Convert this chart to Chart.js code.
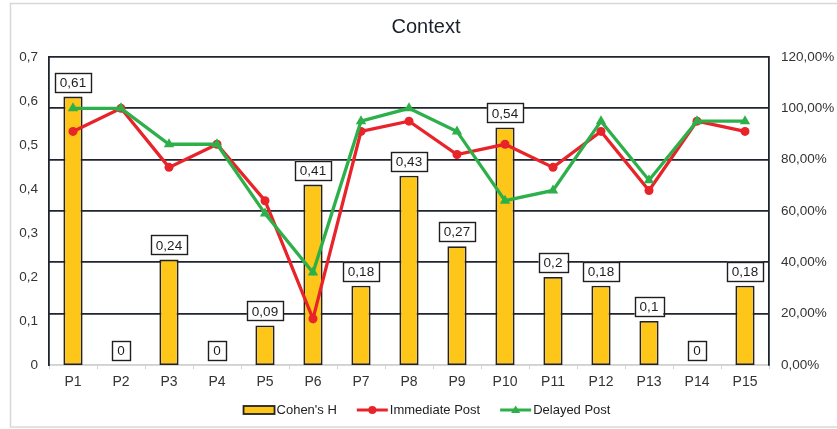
<!DOCTYPE html>
<html>
<head>
<meta charset="utf-8">
<script src="https://cdn.jsdelivr.net/npm/chart.js@4"></script>
<style>
  html, body { margin: 0; padding: 0; background: #ffffff; }
  #wrap { position: relative; width: 837px; height: 429px; }
</style>
</head>
<body>
<div id="wrap"><canvas id="c" width="837" height="429"></canvas></div>
<script>
const chartTitle = 'Context';
const categories = ['P1','P2','P3','P4','P5','P6','P7','P8','P9','P10','P11','P12','P13','P14','P15'];
const cohensH = [0.61, 0, 0.24, 0, 0.09, 0.41, 0.18, 0.43, 0.27, 0.54, 0.2, 0.18, 0.1, 0, 0.18];
const immediatePost = [91, 100, 77, 86, 64, 18, 91, 95, 82, 86, 77, 91, 68, 95, 91];
const delayedPost = [100, 100, 86, 86, 59, 36, 95, 100, 91, 64, 68, 95, 72, 95, 95];
const seriesNames = ["Cohen's H", 'Immediate Post', 'Delayed Post'];
const leftTicks = [0, 0.1, 0.2, 0.3, 0.4, 0.5, 0.6, 0.7];
const rightTicks = [0, 20, 40, 60, 80, 100, 120];

const FONT = '"Liberation Sans", Arial, Helvetica, sans-serif';
const DARK = '#1f2430';
const LIGHT = '#d2d2d2';
const YELLOW = '#FFC61A';
const RED = '#E8232A';
const GREEN = '#2DAF4A';

function fmtComma(v, d) {
  if (v === 0 && d < 2) return '0';
  return Number(v).toFixed(d).replace('.', ',');
}

const framePlugin = {
  id: 'frame',
  beforeDraw(chart) {
    const ctx = chart.ctx;
    ctx.save();
    ctx.fillStyle = '#ffffff';
    ctx.fillRect(0, 0, chart.width, chart.height);
    ctx.strokeStyle = '#d8d8d8';
    ctx.lineWidth = 1.5;
    ctx.strokeRect(10.5, 3.5, 900, 423.5);
    ctx.restore();
  },
  afterDraw(chart) {
    const ctx = chart.ctx;
    ctx.save();
    // title
    ctx.fillStyle = '#1a1f2b';
    ctx.font = '20px ' + FONT;
    ctx.textAlign = 'center';
    ctx.textBaseline = 'middle';
    ctx.fillText(chartTitle, 426, 27);

    // legend
    ctx.font = '13px ' + FONT;
    ctx.textBaseline = 'middle';
    ctx.textAlign = 'left';
    const symW = 31, gapT = 2, gapI = 20;
    const ds = chart.data.datasets;
    const widths = ds.map(d => symW + gapT + ctx.measureText(d.label).width);
    const total = widths.reduce((a, b) => a + b, 0) + gapI * (ds.length - 1);
    let x = 427 - total / 2;
    const y = 410;
    ds.forEach((d, i) => {
      if (d.type === 'bar' || !d.type) {
        ctx.fillStyle = d.backgroundColor;
        ctx.fillRect(x, y - 4, symW, 8);
        ctx.strokeStyle = '#222';
        ctx.lineWidth = 1.8;
        ctx.strokeRect(x, y - 4, symW, 8);
      } else {
        ctx.strokeStyle = d.borderColor;
        ctx.lineWidth = 3;
        ctx.beginPath();
        ctx.moveTo(x, y);
        ctx.lineTo(x + symW, y);
        ctx.stroke();
        ctx.fillStyle = d.borderColor;
        const cx = x + symW / 2;
        ctx.beginPath();
        if (d.pointStyle === 'triangle') {
          ctx.moveTo(cx, y - 4.5);
          ctx.lineTo(cx + 4.5, y + 3);
          ctx.lineTo(cx - 4.5, y + 3);
          ctx.closePath();
        } else {
          ctx.arc(cx, y, 4, 0, Math.PI * 2);
        }
        ctx.fill();
      }
      ctx.fillStyle = '#222';
      ctx.fillText(d.label, x + symW + gapT, y + 0.5);
      x += widths[i] + gapI;
    });
    ctx.restore();
  }
};

const labelPlugin = {
  id: 'boxLabels',
  afterDatasetsDraw(chart) {
    const ctx = chart.ctx;
    const meta = chart.getDatasetMeta(0);
    const data = chart.data.datasets[0].data;
    ctx.save();
    ctx.font = '13.5px ' + FONT;
    ctx.textAlign = 'center';
    ctx.textBaseline = 'middle';
    meta.data.forEach((el, i) => {
      const txt = fmtComma(data[i], data[i] === 0 ? 0 : (Math.round(data[i] * 10) === data[i] * 10 ? 1 : 2));
      const w = ctx.measureText(txt).width + 10;
      const h = 19;
      const bottom = el.y - 5;
      const top = bottom - h;
      const left = el.x - w / 2;
      ctx.fillStyle = '#ffffff';
      ctx.fillRect(left, top, w, h);
      ctx.strokeStyle = '#1e1e1e';
      ctx.lineWidth = 1.4;
      ctx.strokeRect(Math.round(left) + 0.5, Math.round(top) + 0.5, Math.round(w), h);
      ctx.fillStyle = '#1e1e1e';
      ctx.fillText(txt, el.x, top + h / 2 + 1);
    });
    ctx.restore();
  }
};

new Chart(document.getElementById('c'), {
  data: {
    labels: categories,
    datasets: [
      {
        type: 'bar',
        label: seriesNames[0],
        data: cohensH,
        yAxisID: 'y',
        backgroundColor: YELLOW,
        borderColor: '#222222',
        borderWidth: ctx => (ctx.raw === 0 ? 0 : 1.8),
        borderSkipped: false,
        categoryPercentage: 1,
        barPercentage: 0.4,
        order: 3
      },
      {
        type: 'line',
        label: seriesNames[1],
        data: immediatePost,
        yAxisID: 'y1',
        borderColor: RED,
        backgroundColor: RED,
        borderWidth: 3.3,
        pointStyle: 'circle',
        pointRadius: 4.5,
        pointBackgroundColor: RED,
        pointBorderColor: RED,
        pointBorderWidth: 0,
        tension: 0,
        order: 2
      },
      {
        type: 'line',
        label: seriesNames[2],
        data: delayedPost,
        yAxisID: 'y1',
        borderColor: GREEN,
        backgroundColor: GREEN,
        borderWidth: 3.3,
        pointStyle: 'triangle',
        pointRadius: 6,
        pointBackgroundColor: GREEN,
        pointBorderColor: GREEN,
        pointBorderWidth: 0,
        tension: 0,
        order: 1
      }
    ]
  },
  options: {
    responsive: false,
    animation: false,
    devicePixelRatio: 1,
    layout: { padding: { top: 57, left: 0, right: 0, bottom: 0 } },
    plugins: {
      legend: { display: false },
      title: { display: false },
      tooltip: { enabled: false }
    },
    scales: {
      x: {
        type: 'category',
        offset: true,
        grid: {
          display: true,
          offset: true,
          drawOnChartArea: false,
          drawTicks: true,
          tickLength: 4,
          color: LIGHT,
          lineWidth: 1
        },
        border: { display: true, color: LIGHT, width: 1.5 },
        ticks: {
          color: '#333333',
          font: { family: FONT, size: 14 },
          padding: 5,
          maxRotation: 0,
          autoSkip: false
        },
        afterFit(scale) { scale.height = 64; }
      },
      y: {
        type: 'linear',
        position: 'left',
        min: leftTicks[0],
        max: leftTicks[leftTicks.length - 1],
        afterBuildTicks(scale) { scale.ticks = leftTicks.map(v => ({ value: v })); },
        grid: { display: false, drawTicks: false },
        border: { display: true, color: DARK, width: 1.8 },
        ticks: {
          color: '#333333',
          font: { family: FONT, size: 13.5 },
          padding: 11,
          callback: v => fmtComma(v, 1)
        },
        afterFit(scale) { scale.width = 49; }
      },
      y1: {
        type: 'linear',
        position: 'right',
        min: rightTicks[0],
        max: rightTicks[rightTicks.length - 1],
        afterBuildTicks(scale) { scale.ticks = rightTicks.map(v => ({ value: v })); },
        grid: {
          display: true,
          drawTicks: false,
          drawOnChartArea: true,
          color: ctx => (ctx.tick && ctx.tick.value === 0 ? LIGHT : DARK),
          lineWidth: 1.8
        },
        border: { display: true, color: DARK, width: 1.8 },
        ticks: {
          color: '#333333',
          font: { family: FONT, size: 13.5 },
          padding: 12,
          callback: v => fmtComma(v, 2) + '%'
        },
        afterFit(scale) { scale.width = 68; }
      }
    }
  },
  plugins: [framePlugin, labelPlugin]
});
</script>
</body>
</html>
